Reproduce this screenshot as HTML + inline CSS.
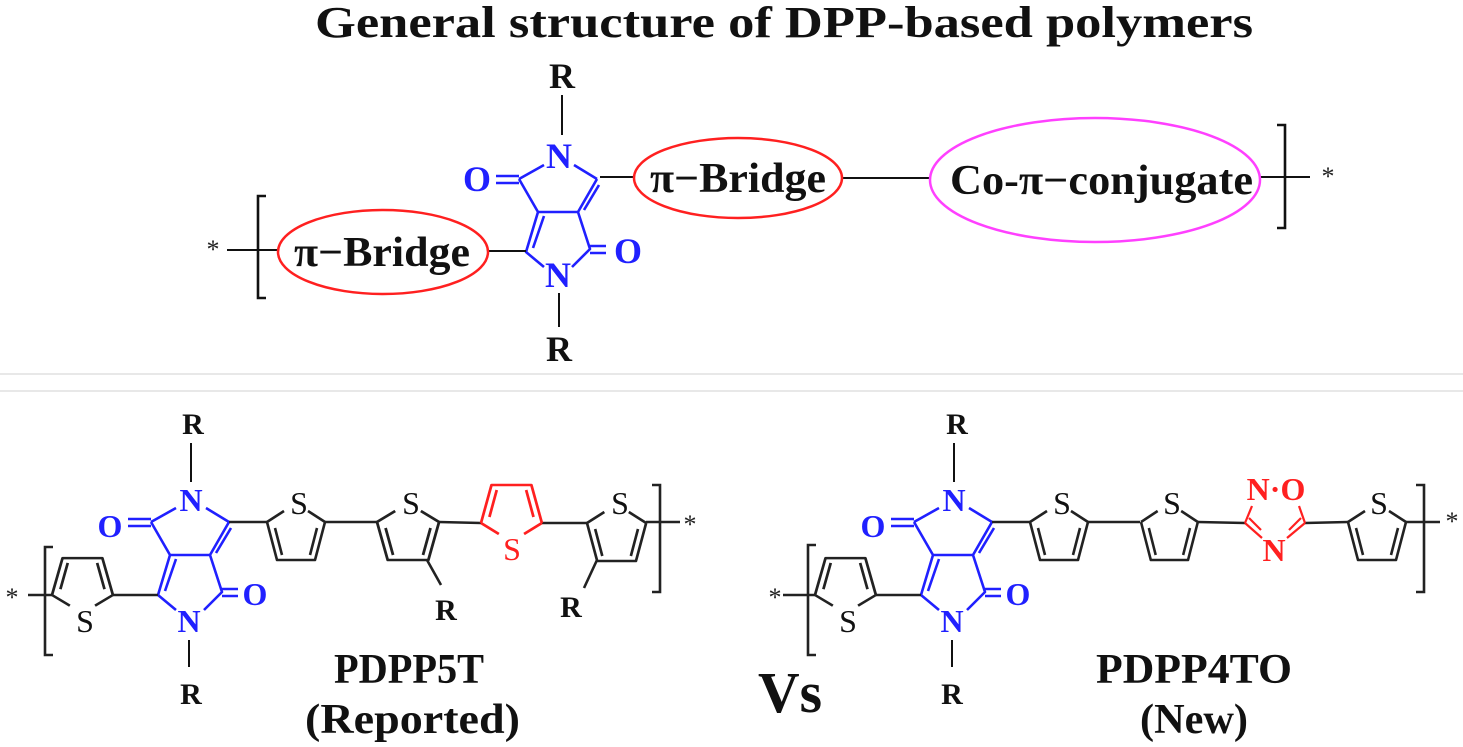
<!DOCTYPE html>
<html><head><meta charset="utf-8"><style>
html,body{margin:0;padding:0;background:#fff;}
svg{display:block;}
text{font-family:"Liberation Serif",serif;}
</style></head><body>
<svg width="1463" height="747" viewBox="0 0 1463 747" xmlns="http://www.w3.org/2000/svg">
<defs>
<g id="th" fill="none" stroke="#222" stroke-width="2.6" stroke-linejoin="round">
<path d="M0,0 L10,38 L48,38 L58,0 M0,0 L17,-11 M58,0 L41,-11"/>
<path d="M8,6 L15,33 M43,33 L50,6"/>
</g>
<g id="thr" fill="none" stroke="#ff2020" stroke-width="2.6" stroke-linejoin="round">
<path d="M0,0 L10,38 L48,38 L58,0 M0,0 L17,-11 M58,0 L41,-11"/>
<path d="M8,6 L15,33 M43,33 L50,6"/>
</g>
<g id="dpp" fill="none" stroke="#2020ff" stroke-width="2.6" stroke-linejoin="round">
<path d="M151,522 L176,508 M206,508 L229,522 M151,522 L170,555 L210,555 L229,522 M170,555 L158,595 L176,610 M204,610 L222,592 L210,555"/>
<path d="M216,553 L231,528 M176,559 L165,591"/>
<path d="M151,519 L128,519 M151,526 L128,526 M222,589 L238,589 M222,596 L238,596"/>
</g>
</defs>

<line x1="0" y1="374" x2="1463" y2="374" stroke="#e8e8e8" stroke-width="2"/>
<line x1="0" y1="391" x2="1463" y2="391" stroke="#e8e8e8" stroke-width="2"/>

<text x="315" y="37" textLength="938" lengthAdjust="spacingAndGlyphs" font-size="44" font-weight="bold" fill="#111">General structure of DPP-based polymers</text>

<!-- top structure -->
<g transform="translate(368,-343)">
<use href="#dpp"/>
</g>
<g font-weight="bold" font-size="36" fill="#2020ff" text-anchor="middle">
<text x="559" y="168">N</text>
<text x="558" y="287">N</text>
<text x="477" y="191">O</text>
<text x="628" y="263">O</text>
</g>
<g stroke="#111" stroke-width="2" fill="none">
<path d="M562,95 L562,135 M559,293 L559,327"/>
<path d="M227,250 L278,250 M488,251 L526,251 M600,177 L634,177 M842,178 L930,178 M1260,177 L1310,177"/>
<path d="M266,196 L258,196 L258,298 L266,298 M1277,125 L1285,125 L1285,228 L1277,228" stroke-width="2.6"/>
</g>
<g font-size="36" font-weight="bold" fill="#111" text-anchor="middle">
<text x="562" y="88">R</text>
<text x="559" y="361">R</text>
</g>
<text x="213" y="258" font-size="26" text-anchor="middle" fill="#222">*</text>
<text x="1328" y="185" font-size="26" text-anchor="middle" fill="#222">*</text>
<ellipse cx="383" cy="252" rx="105" ry="42" fill="none" stroke="#ff2020" stroke-width="2.5"/>
<ellipse cx="738" cy="178" rx="104" ry="40" fill="none" stroke="#ff2020" stroke-width="2.5"/>
<ellipse cx="1095" cy="180" rx="165" ry="62" fill="none" stroke="#ff40ff" stroke-width="2.5"/>
<g font-size="42" font-weight="bold" fill="#111">
<text x="294" y="266" textLength="176" lengthAdjust="spacingAndGlyphs">π−Bridge</text>
<text x="650" y="192" textLength="176" lengthAdjust="spacingAndGlyphs">π−Bridge</text>
<text x="950" y="194" textLength="303" lengthAdjust="spacingAndGlyphs">Co-π−conjugate</text>
</g>

<!-- bottom left PDPP5T -->
<use href="#dpp"/>
<g stroke="#111" stroke-width="2" fill="none">
<path d="M191,443 L191,482 M189,640 L189,667"/>
</g>
<g stroke="#222" stroke-width="2.6" fill="none">
<path d="M28,595 L52,595 M113,595 L158,595 M229,522 L267,522 M325,522 L377,522 M439,522 L481,523 M542,523 L587,523 M646,522 L680,522"/>
<path d="M427,560 L441,585 M597,560 L584,588"/>
<path d="M53,547 L45,547 L45,655 L53,655 M652,485 L660,485 L660,592 L652,592"/>
</g>
<use href="#th" transform="translate(52,595) scale(1.05,-0.97)"/>
<use href="#th" transform="translate(267,522)"/>
<use href="#th" transform="translate(377,522) scale(1.07,1)"/>
<use href="#thr" transform="translate(481,523) scale(1.05,-1)"/>
<use href="#th" transform="translate(587,523) scale(1.02,1)"/>
<g font-size="32" fill="#111" text-anchor="middle">
<text x="85" y="632">S</text>
<text x="299" y="514">S</text>
<text x="411" y="514">S</text>
<text x="512" y="560" fill="#ff2020">S</text>
<text x="620" y="514">S</text>
</g>

<g transform="translate(763,0)">
<use href="#dpp"/>
<use href="#th" transform="translate(52,595) scale(1.05,-0.97)"/>
<use href="#th" transform="translate(267,522)"/>
<g stroke="#111" stroke-width="2" fill="none">
<path d="M191,443 L191,482 M189,640 L189,667"/>
</g>
<g stroke="#222" stroke-width="2.6" fill="none">
<path d="M20,595 L52,595 M113,595 L158,595 M229,522 L267,522 M325,522 L377,522"/>
<path d="M53,545 L45,545 L45,655 L53,655"/>
</g>
<g font-size="32" fill="#111" text-anchor="middle">
<text x="85" y="632">S</text>
<text x="299" y="514">S</text>
</g>
</g>

<g font-weight="bold" font-size="32" fill="#2020ff" text-anchor="middle">
<text x="191" y="511">N</text>
<text x="189" y="632">N</text>
<text x="110" y="537">O</text>
<text x="255" y="605">O</text>
<text x="954" y="511">N</text>
<text x="952" y="632">N</text>
<text x="873" y="537">O</text>
<text x="1018" y="605">O</text>
</g>
<g font-size="30" font-weight="bold" fill="#111" text-anchor="middle">
<text x="193" y="434">R</text>
<text x="191" y="704">R</text>
<text x="446" y="620">R</text>
<text x="571" y="617">R</text>
<text x="957" y="434">R</text>
<text x="952" y="704">R</text>
</g>
<text x="12" y="606" font-size="26" text-anchor="middle" fill="#222">*</text>
<text x="690" y="533" font-size="26" text-anchor="middle" fill="#222">*</text>
<text x="775" y="606" font-size="26" text-anchor="middle" fill="#222">*</text>
<text x="1452" y="530" font-size="26" text-anchor="middle" fill="#222">*</text>

<use href="#th" transform="translate(1141,522) scale(0.98,1)"/>
<use href="#th" transform="translate(1348,522)"/>
<g stroke="#222" stroke-width="2.6" fill="none">
<path d="M1198,522 L1245,523 M1305,523 L1348,522 M1406,522 L1440,522"/>
<path d="M1416,485 L1424,485 L1424,592 L1416,592"/>
</g>
<g stroke="#ff2020" stroke-width="2.2" fill="none">
<path d="M1245,523 L1252,506 M1245,523 L1262,538 M1249,518 L1261,530 M1305,523 L1299,506 M1305,523 L1287,538 M1301,518 L1289,530"/>
</g>
<g font-size="32" fill="#111" text-anchor="middle">
<text x="1172" y="514">S</text>
<text x="1379" y="514">S</text>
</g>
<g font-size="32" font-weight="bold" fill="#ff2020" text-anchor="middle">
<text x="1276" y="500">N·O</text>
<text x="1274" y="561">N</text>
</g>

<g font-size="42" font-weight="bold" fill="#111">
<text x="334" y="683" textLength="150" lengthAdjust="spacingAndGlyphs">PDPP5T</text>
<text x="305" y="733" textLength="215" lengthAdjust="spacingAndGlyphs">(Reported)</text>
<text x="1096" y="683" textLength="196" lengthAdjust="spacingAndGlyphs">PDPP4TO</text>
<text x="1140" y="733" textLength="108" lengthAdjust="spacingAndGlyphs">(New)</text>
</g>
<text x="758" y="712" textLength="64" lengthAdjust="spacingAndGlyphs" font-size="58" font-weight="bold" fill="#111">Vs</text>
</svg>
</body></html>
